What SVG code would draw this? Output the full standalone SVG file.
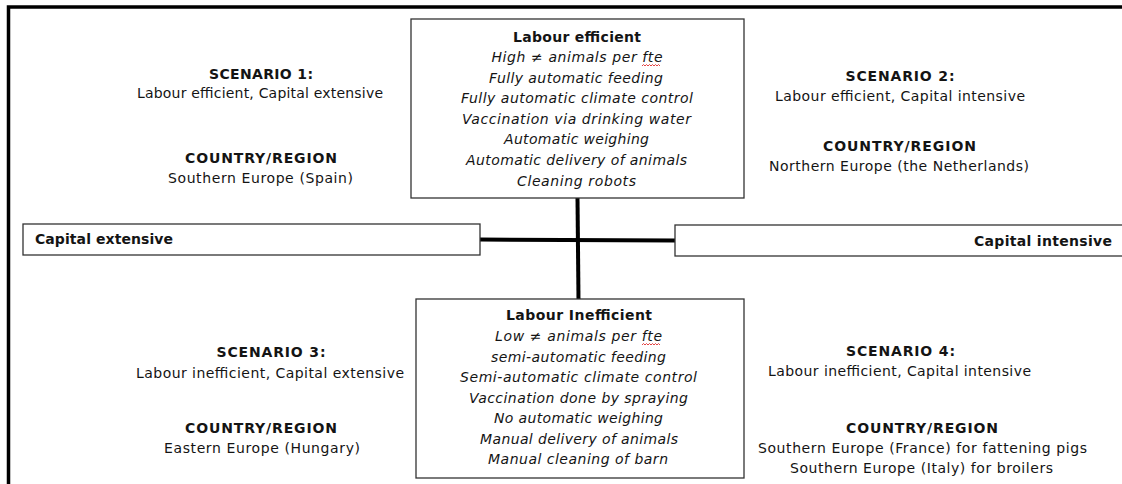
<svg xmlns="http://www.w3.org/2000/svg" width="1122" height="484" viewBox="0 0 1122 484">
<style>
text{font-family:"DejaVu Sans",Verdana,sans-serif;font-size:14px;fill:#141414;text-anchor:middle}
.b{font-weight:bold}
.i{font-style:italic}
.box{fill:#fff;stroke:#333;stroke-width:1.3}
.frame{stroke:#000;stroke-width:3.5;fill:none}
.axis{stroke:#000;stroke-width:4;fill:none}
.sq{stroke:#e03030;stroke-width:0.9;fill:none}
</style>
<rect width="1122" height="484" fill="#fff"/>
<path class="frame" d="M8.5 484 V7 H1122"/>
<g id="connectors">
<line class="axis" x1="480" y1="239.5" x2="675" y2="240.5"/>
<line class="axis" x1="577.5" y1="198" x2="578.5" y2="299"/>
</g>
<g id="top-box">
<rect class="box" x="411" y="19" width="333" height="179"/>
<text class="b" x="577" y="42" textLength="128" lengthAdjust="spacing">Labour efficient</text>
<text class="i" x="577" y="62" textLength="171" lengthAdjust="spacing">High ≠ animals per fte</text>
<path class="sq" d="M642 66 l1.5 -1.5 l1.5 1.5 l1.5 -1.5 l1.5 1.5 l1.5 -1.5 l1.5 1.5 l1.5 -1.5 l1.5 1.5 l1.5 -1.5 l1.5 1.5 l1.5 -1.5 l1.5 1.5"/>
<text class="i" x="576" y="83" textLength="174" lengthAdjust="spacing">Fully automatic feeding</text>
<text class="i" x="577" y="103" textLength="232" lengthAdjust="spacing">Fully automatic climate control</text>
<text class="i" x="576.5" y="124" textLength="229" lengthAdjust="spacing">Vaccination via drinking water</text>
<text class="i" x="576.5" y="144" textLength="145" lengthAdjust="spacing">Automatic weighing</text>
<text class="i" x="576.5" y="165" textLength="221" lengthAdjust="spacing">Automatic delivery of animals</text>
<text class="i" x="576.5" y="186" textLength="119" lengthAdjust="spacing">Cleaning robots</text>
</g>
<g id="bottom-box">
<rect class="box" x="416" y="299" width="328" height="179"/>
<text class="b" x="579" y="320" textLength="146" lengthAdjust="spacing">Labour Inefficient</text>
<text class="i" x="578.5" y="341" textLength="167" lengthAdjust="spacing">Low ≠ animals per fte</text>
<path class="sq" d="M642 345 l1.5 -1.5 l1.5 1.5 l1.5 -1.5 l1.5 1.5 l1.5 -1.5 l1.5 1.5 l1.5 -1.5 l1.5 1.5 l1.5 -1.5 l1.5 1.5 l1.5 -1.5 l1.5 1.5"/>
<text class="i" x="578.5" y="362" textLength="175" lengthAdjust="spacing">semi-automatic feeding</text>
<text class="i" x="578.5" y="382" textLength="237" lengthAdjust="spacing">Semi-automatic climate control</text>
<text class="i" x="578.5" y="403" textLength="219" lengthAdjust="spacing">Vaccination done by spraying</text>
<text class="i" x="578.5" y="423" textLength="169" lengthAdjust="spacing">No automatic weighing</text>
<text class="i" x="579" y="444" textLength="198" lengthAdjust="spacing">Manual delivery of animals</text>
<text class="i" x="578" y="464" textLength="180" lengthAdjust="spacing">Manual cleaning of barn</text>
</g>
<g id="capital-extensive">
<rect class="box" x="23" y="224" width="457" height="31"/>
<text class="b" x="35" y="244" style="text-anchor:start" textLength="138" lengthAdjust="spacing">Capital extensive</text>
</g>
<g id="capital-intensive">
<rect class="box" x="675" y="225" width="460" height="31"/>
<text class="b" x="974" y="246" style="text-anchor:start" textLength="138" lengthAdjust="spacing">Capital intensive</text>
</g>
<g id="scenario-1">
<text class="b" x="261" y="79" textLength="104" lengthAdjust="spacing">SCENARIO 1:</text>
<text x="260" y="98" textLength="246" lengthAdjust="spacing">Labour efficient, Capital extensive</text>
<text class="b" x="261" y="163" textLength="152" lengthAdjust="spacing">COUNTRY/REGION</text>
<text x="260.5" y="183" textLength="185" lengthAdjust="spacing">Southern Europe (Spain)</text>
</g>
<g id="scenario-2">
<text class="b" x="900" y="81" textLength="109" lengthAdjust="spacing">SCENARIO 2:</text>
<text x="900" y="101" textLength="250" lengthAdjust="spacing">Labour efficient, Capital intensive</text>
<text class="b" x="899.5" y="151" textLength="153" lengthAdjust="spacing">COUNTRY/REGION</text>
<text x="899" y="171" textLength="260" lengthAdjust="spacing">Northern Europe (the Netherlands)</text>
</g>
<g id="scenario-3">
<text class="b" x="271" y="357" textLength="109" lengthAdjust="spacing">SCENARIO 3:</text>
<text x="270" y="378" textLength="268" lengthAdjust="spacing">Labour inefficient, Capital extensive</text>
<text class="b" x="261" y="433" textLength="152" lengthAdjust="spacing">COUNTRY/REGION</text>
<text x="262" y="453" textLength="196" lengthAdjust="spacing">Eastern Europe (Hungary)</text>
</g>
<g id="scenario-4">
<text class="b" x="900.5" y="356" textLength="109" lengthAdjust="spacing">SCENARIO 4:</text>
<text x="899.5" y="376" textLength="263" lengthAdjust="spacing">Labour inefficient, Capital intensive</text>
<text class="b" x="922" y="433" textLength="152" lengthAdjust="spacing">COUNTRY/REGION</text>
<text x="922.5" y="453" textLength="329" lengthAdjust="spacing">Southern Europe (France) for fattening pigs</text>
<text x="921.5" y="473" textLength="263" lengthAdjust="spacing">Southern Europe (Italy) for broilers</text>
</g>
</svg>
